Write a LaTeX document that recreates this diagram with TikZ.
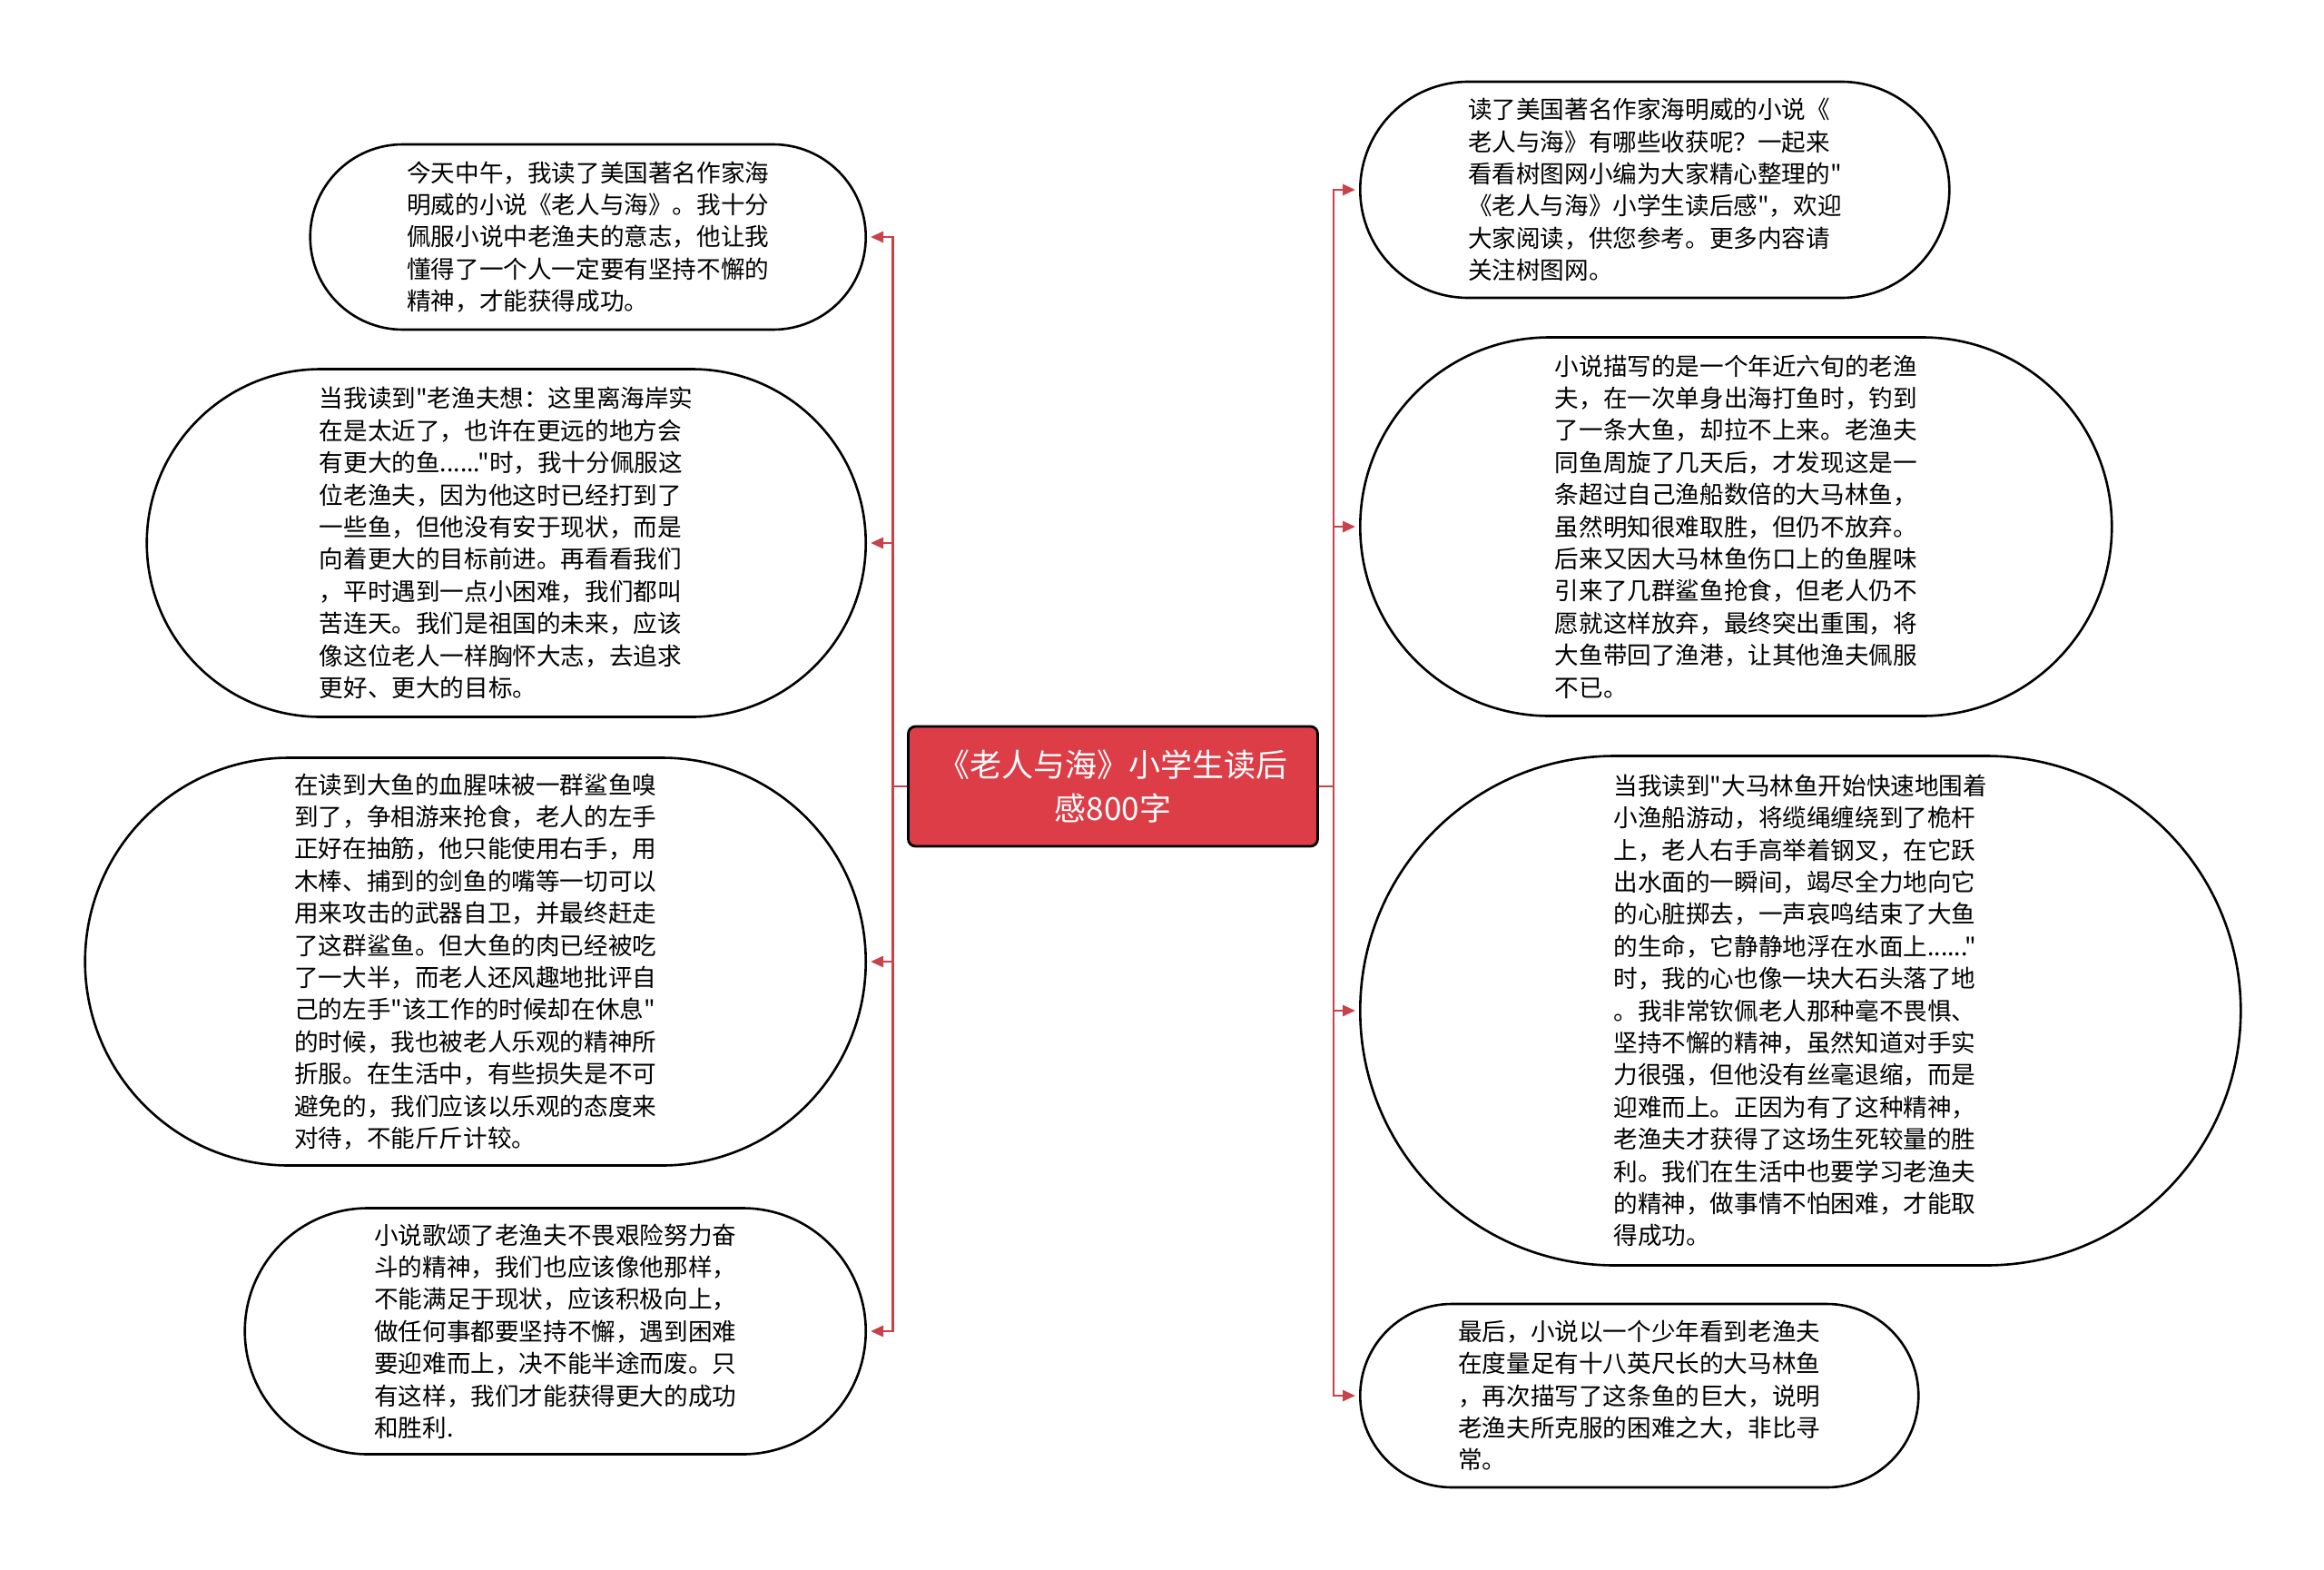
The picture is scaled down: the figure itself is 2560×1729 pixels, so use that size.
\documentclass[tikz,border=0pt]{standalone}
\usepackage{fontspec}
\setmainfont{Noto Sans CJK SC}[Ligatures=TeXOff]
\usepackage{tikz}
\usetikzlibrary{arrows.meta, positioning, shapes.misc}
\definecolor{linkred}{RGB}{200,66,74}
\definecolor{topicred}{RGB}{220,61,70}

\begin{document}
\begin{tikzpicture}[
    x=0.5pt, y=-0.5pt,
    note/.style={draw, line width=1.3pt, shape=rounded rectangle, inner sep=2pt,
                 align=left, font={\fontsize{13.3pt}{17.7pt}\selectfont}},
    topic/.style={draw, line width=1.4pt, fill=topicred, rounded corners=4pt,
                  text=white, align=center, font={\fontsize{17.5pt}{23.7pt}\selectfont}},
    conn/.style={draw=linkred, line width=1.4pt, -{Triangle[length=7pt,width=6pt]},
                 shorten >=2pt}
  ]
    \useasboundingbox (0,0) rectangle (2560,1729);
    \node[topic, minimum width=225.5pt, minimum height=66pt] (topic) at (1226,866)
      {《老人与海》小学生读后\\感800字};
    % left side
    \node[note, anchor=east, minimum width=310pt, minimum height=102pt] (l1) at (955,261)
      {今天中午，我读了美国著名作家海\\明威的小说《老人与海》。我十分\\佩服小说中老渔夫的意志，他让我\\懂得了一个人一定要有坚持不懈的\\精神，才能获得成功。};
    \node[note, anchor=east, minimum width=400pt, minimum height=191.5pt] (l2) at (955,598)
      {当我读到"老渔夫想：这里离海岸实\\在是太近了，也许在更远的地方会\\有更大的鱼......"时，我十分佩服这\\位老渔夫，因为他这时已经打到了\\一些鱼，但他没有安于现状，而是\\向着更大的目标前进。再看看我们\\，平时遇到一点小困难，我们都叫\\苦连天。我们是祖国的未来，应该\\像这位老人一样胸怀大志，去追求\\更好、更大的目标。};
    \node[note, anchor=east, minimum width=434pt, minimum height=224.5pt] (l3) at (955,1059)
      {在读到大鱼的血腥味被一群鲨鱼嗅\\到了，争相游来抢食，老人的左手\\正好在抽筋，他只能使用右手，用\\木棒、捕到的剑鱼的嘴等一切可以\\用来攻击的武器自卫，并最终赶走\\了这群鲨鱼。但大鱼的肉已经被吃\\了一大半，而老人还风趣地批评自\\己的左手"该工作的时候却在休息"\\的时候，我也被老人乐观的精神所\\折服。在生活中，有些损失是不可\\避免的，我们应该以乐观的态度来\\对待，不能斤斤计较。};
    \node[note, anchor=east, minimum width=346pt, minimum height=135.5pt] (l4) at (955,1466)
      {小说歌颂了老渔夫不畏艰险努力奋\\斗的精神，我们也应该像他那样，\\不能满足于现状，应该积极向上，\\做任何事都要坚持不懈，遇到困难\\要迎难而上，决不能半途而废。只\\有这样，我们才能获得更大的成功\\和胜利.};
    % right side
    \node[note, anchor=west, minimum width=328.5pt, minimum height=119pt] (r1) at (1497,209)
      {读了美国著名作家海明威的小说《\\老人与海》有哪些收获呢？一起来\\看看树图网小编为大家精心整理的"\\《老人与海》小学生读后感"，欢迎\\大家阅读，供您参考。更多内容请\\关注树图网。};
    \node[note, anchor=west, minimum width=418pt, minimum height=208.5pt] (r2) at (1497,580)
      {小说描写的是一个年近六旬的老渔\\夫，在一次单身出海打鱼时，钓到\\了一条大鱼，却拉不上来。老渔夫\\同鱼周旋了几天后，才发现这是一\\条超过自己渔船数倍的大马林鱼，\\虽然明知很难取胜，但仍不放弃。\\后来又因大马林鱼伤口上的鱼腥味\\引来了几群鲨鱼抢食，但老人仍不\\愿就这样放弃，最终突出重围，将\\大鱼带回了渔港，让其他渔夫佩服\\不已。};
    \node[note, anchor=west, minimum width=489pt, minimum height=280.5pt] (r3) at (1497,1113)
      {当我读到"大马林鱼开始快速地围着\\小渔船游动，将缆绳缠绕到了桅杆\\上，老人右手高举着钢叉，在它跃\\出水面的一瞬间，竭尽全力地向它\\的心脏掷去，一声哀鸣结束了大鱼\\的生命，它静静地浮在水面上......"\\时，我的心也像一块大石头落了地\\。我非常钦佩老人那种毫不畏惧、\\坚持不懈的精神，虽然知道对手实\\力很强，但他没有丝毫退缩，而是\\迎难而上。正因为有了这种精神，\\老渔夫才获得了这场生死较量的胜\\利。我们在生活中也要学习老渔夫\\的精神，做事情不怕困难，才能取\\得成功。};
    \node[note, anchor=west, minimum width=311.5pt, minimum height=101pt] (r4) at (1497,1537)
      {最后，小说以一个少年看到老渔夫\\在度量足有十八英尺长的大马林鱼\\，再次描写了这条鱼的巨大，说明\\老渔夫所克服的困难之大，非比寻\\常。};
    % connectors
    \coordinate (ljoint) at ([xshift=-8pt]topic.west);
    \coordinate (rjoint) at ([xshift=8pt]topic.east);
    \foreach \n in {l1,l2,l3,l4}
      \draw[conn] (topic.west) -- (ljoint) |- (\n.east);
    \foreach \n in {r1,r2,r3,r4}
      \draw[conn] (topic.east) -- (rjoint) |- (\n.west);
  \end{tikzpicture}
\end{document}
